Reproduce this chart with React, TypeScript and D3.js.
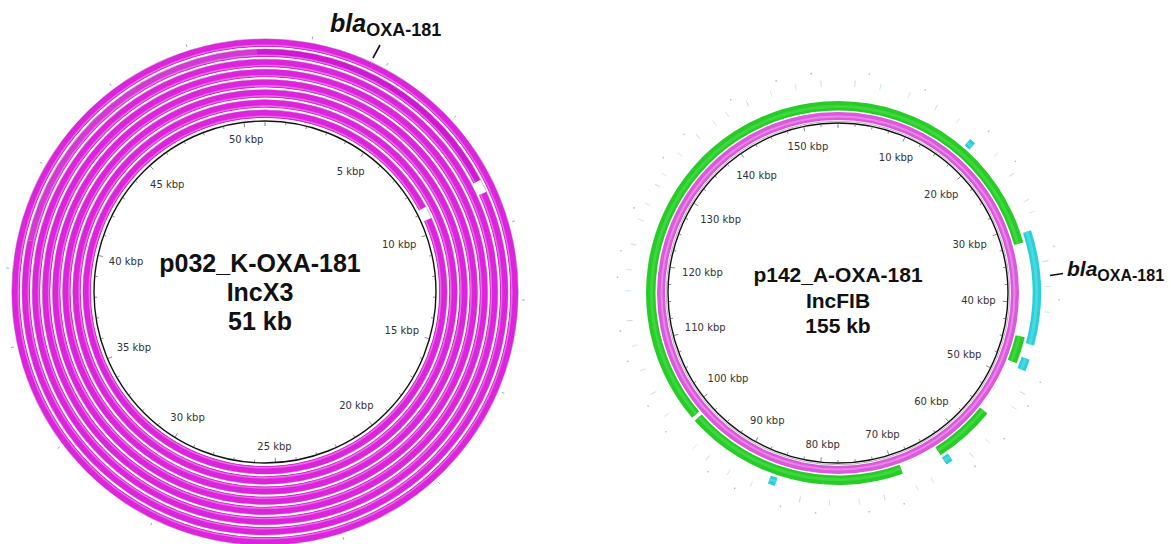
import React from "react";
import * as d3 from "d3";

const W = 1170;
const H = 544;

// ---------- Left plasmid: p032_K-OXA-181 ----------
const leftTitle = ["p032_K-OXA-181", "IncX3", "51 kb"];
const leftLength = 51;
const leftTickLabels = [5, 10, 15, 20, 25, 30, 35, 40, 45, 50];
const leftRingIds = [0, 1, 2, 3, 4, 5, 6, 7];
// BLAST hit segments per ring (kbp)
const leftSegRing = [0, 0, 1, 2, 3, 4, 5, 6, 6, 6, 6, 7];
const leftSegStart = [0, 9.35, 0, 0, 0, 0, 0, 0, 9.3, 40, 50.7, 0];
const leftSegEnd = [8.8, 51, 51, 51, 51, 51, 51, 8.85, 40, 50.7, 51, 51];
const leftSegTone = ["base", "base", "base", "base", "base", "base", "base", "dark", "base", "pale", "dark", "base"];
const leftOuterSpecks = [1.5, 4, 6.7, 10.5, 13, 16, 19.5, 23, 26, 29.2, 33, 36.5, 39, 42.5, 45.8, 48.5];

// ---------- Right plasmid: p142_A-OXA-181 ----------
const rightTitle = ["p142_A-OXA-181", "IncFIB", "155 kb"];
const rightLength = 155;
const rightTickLabels = [10, 20, 30, 40, 50, 60, 70, 80, 90, 100, 110, 120, 130, 140, 150];
const rightMagentaStart = [0];
const rightMagentaEnd = [155];
const rightGreenStart = [0, 44.5, 55.5, 69, 98.8];
const rightGreenEnd = [32.2, 48, 63.6, 98.3, 155];
const rightCyanStart = [17.5, 31, 47, 62.7, 85.3];
const rightCyanEnd = [18.3, 45.2, 48.5, 63.6, 86.2];
const rightFaintLines = [2, 5, 8.5, 12, 15, 21, 24, 27.5, 29, 35, 38, 41, 51, 53, 58, 60.5, 66, 68, 72, 75, 78.5, 82, 88, 91, 94, 96, 101, 104, 107, 110, 113, 116.5, 119, 122, 125, 127, 129.5, 131, 134, 137, 139.5, 141.3, 144, 147, 150, 153];
const rightFaintDots = [3.5, 10, 18.5, 23, 33.5, 39.5, 49, 52, 56.5, 61, 70, 74, 80, 84, 89.5, 93, 99.5, 103, 108.5, 112, 118, 121, 126, 132.5, 136, 142.5, 148, 152];

const arc = d3.arc<any>();

function kbpWidth(label: string) {
  let w = 0;
  for (const ch of label) {
    if (/[0-9]/.test(ch)) w += 6.36;
    else if (ch === " ") w += 3.18;
    else if (ch === "k") w += 5.79;
    else w += 6.35;
  }
  return w;
}

function labelXY(angle: number, r0: number, w: number, h: number) {
  const s = Math.sin(angle);
  const c = Math.cos(angle);
  const d = r0 - (Math.abs(s) * w) / 2 - (Math.abs(c) * h) / 2;
  return [d * s, -d * c];
}

function LeftPlasmid() {
  const cx = 265;
  const cy = 292;
  const rInner = 171;
  const r0 = 172.5;
  const ringW = 10.15;
  const ang = d3.scaleLinear().domain([0, leftLength]).range([0, 2 * Math.PI]);
  const toneColor: Record<string, string> = { base: "#dc24dc", dark: "#cf18d2", pale: "#d33ad3" };
  const ticks = d3.range(0, leftLength, 1);
  return (
    <g transform={`translate(${cx},${cy})`}>
      {leftRingIds.map((ri) => {
        const a = r0 + ri * ringW;
        return <circle key={"bg" + ri} r={a + ringW - 0.4} fill="none" stroke="#6a3a6a" strokeWidth={0.7} opacity={0.5} />;
      })}
      {leftSegRing.map((ri, i) => {
        const a = r0 + ri * ringW;
        const s = ang(leftSegStart[i]);
        const e = ang(leftSegEnd[i]);
        const col = toneColor[leftSegTone[i]];
        return (
          <g key={"seg" + i}>
            <path d={arc({ innerRadius: a + 1.6, outerRadius: a + ringW - 0.6, startAngle: s, endAngle: e })!} fill={col} />
            <path d={arc({ innerRadius: a + 2.4, outerRadius: a + 4.0, startAngle: s, endAngle: e })!} fill="#ee88ee" opacity={0.7} />
            <path d={arc({ innerRadius: a + 1.6, outerRadius: a + 2.4, startAngle: s, endAngle: e })!} fill="#d02cd0" />
          </g>
        );
      })}
      {leftRingIds.map((ri) => {
        const a = r0 + ri * ringW;
        return <circle key={"wg" + ri} r={a + 0.9} fill="none" stroke="#ffffff" strokeWidth={1.3} opacity={0.9} />;
      })}
      <circle r={rInner} fill="none" stroke="#111" strokeWidth={1.4} />
      {ticks.map((t) => {
        const a = ang(t);
        const len = t % 5 === 0 ? 5 : 3;
        return (
          <line
            key={"tk" + t}
            x1={(rInner - 0.5) * Math.sin(a)}
            y1={-(rInner - 0.5) * Math.cos(a)}
            x2={(rInner - len) * Math.sin(a)}
            y2={-(rInner - len) * Math.cos(a)}
            stroke="#555"
            strokeWidth={0.7}
          />
        );
      })}
      {leftOuterSpecks.map((t, i) => {
        const a = ang(t);
        return (
          <line
            key={"sp" + i}
            x1={257 * Math.sin(a)}
            y1={-257 * Math.cos(a)}
            x2={260 * Math.sin(a)}
            y2={-260 * Math.cos(a)}
            stroke="#aaa"
            strokeWidth={1}
          />
        );
      })}
      {leftTickLabels.map((t) => {
        const label = `${t} kbp`;
        const [x, y] = labelXY(ang(t), 160, kbpWidth(label), 9);
        return (
          <text key={"lb" + t} x={x} y={y} textAnchor="middle" dominantBaseline="central" fontFamily="DejaVu Sans" fontSize={10} fill="#333">
            {label}
          </text>
        );
      })}
      {leftTitle.map((s, i) => (
        <text key={"tt" + i} x={-5} y={-20 + i * 29} textAnchor="middle" fontFamily="Liberation Sans" fontWeight="bold" fontSize={25} fill="#111">
          {s}
        </text>
      ))}
    </g>
  );
}

function RightPlasmid() {
  const cx = 838;
  const cy = 293;
  const rInner = 170;
  const ang = d3.scaleLinear().domain([0, rightLength]).range([0, 2 * Math.PI]);
  const ticks = d3.range(0, rightLength, 2.5);
  const mag = { i: 173, o: 181 };
  const grn = { i: 182.5, o: 192 };
  const cyn = { i: 194.5, o: 203 };
  return (
    <g transform={`translate(${cx},${cy})`}>
      {rightFaintLines.map((t, i) => {
        const a = ang(t);
        return (
          <line
            key={"fl" + i}
            x1={207 * Math.sin(a)}
            y1={-207 * Math.cos(a)}
            x2={213 * Math.sin(a)}
            y2={-213 * Math.cos(a)}
            stroke={i % 3 === 0 ? "#c4c4c4" : "#b4e2e8"}
            strokeWidth={0.9}
            opacity={0.8}
          />
        );
      })}
      {rightFaintDots.map((t, i) => {
        const a = ang(t);
        return <circle key={"fd" + i} cx={221 * Math.sin(a)} cy={-221 * Math.cos(a)} r={0.8} fill={i % 4 === 0 ? "#d0a8b0" : "#b0b0b0"} />;
      })}
      {rightMagentaStart.map((s, i) => (
        <g key={"m" + i}>
          <path d={arc({ innerRadius: mag.i, outerRadius: mag.o, startAngle: ang(s), endAngle: ang(rightMagentaEnd[i]) })!} fill="#dc58dc" />
          <path d={arc({ innerRadius: mag.i + 2.5, outerRadius: mag.i + 4.5, startAngle: ang(s), endAngle: ang(rightMagentaEnd[i]) })!} fill="#e886e8" />
        </g>
      ))}
      {rightGreenStart.map((s, i) => (
        <g key={"g" + i}>
          <path d={arc({ innerRadius: grn.i, outerRadius: grn.o, startAngle: ang(s), endAngle: ang(rightGreenEnd[i]) })!} fill="#28cc28" />
          <path d={arc({ innerRadius: grn.i + 2.5, outerRadius: grn.i + 5.5, startAngle: ang(s), endAngle: ang(rightGreenEnd[i]) })!} fill="#3ed83e" />
        </g>
      ))}
      {rightCyanStart.map((s, i) => (
        <g key={"c" + i}>
          <path d={arc({ innerRadius: cyn.i, outerRadius: cyn.o, startAngle: ang(s), endAngle: ang(rightCyanEnd[i]) })!} fill="#2ccfd8" />
          <path d={arc({ innerRadius: cyn.i + 2.5, outerRadius: cyn.i + 5.5, startAngle: ang(s), endAngle: ang(rightCyanEnd[i]) })!} fill="#48d9e2" />
        </g>
      ))}
      <circle r={rInner + 1.8} fill="none" stroke="#888" strokeWidth={0.6} />
      <circle r={rInner} fill="none" stroke="#111" strokeWidth={1.4} />
      {ticks.map((t) => {
        const a = ang(t);
        const len = t % 10 === 0 ? 5 : 3;
        return (
          <line
            key={"tk" + t}
            x1={(rInner - 0.5) * Math.sin(a)}
            y1={-(rInner - 0.5) * Math.cos(a)}
            x2={(rInner - len) * Math.sin(a)}
            y2={-(rInner - len) * Math.cos(a)}
            stroke="#555"
            strokeWidth={0.7}
          />
        );
      })}
      {rightTickLabels.map((t) => {
        const label = `${t} kbp`;
        const [x, y] = labelXY(ang(t), 158, kbpWidth(label), 9);
        return (
          <text key={"lb" + t} x={x} y={y} textAnchor="middle" dominantBaseline="central" fontFamily="DejaVu Sans" fontSize={10} fill="#333">
            {label}
          </text>
        );
      })}
      {rightTitle.map((s, i) => (
        <text key={"tt" + i} x={0} y={-11 + i * 25.5} textAnchor="middle" fontFamily="Liberation Sans" fontWeight="bold" fontSize={21} fill="#111">
          {s}
        </text>
      ))}
    </g>
  );
}

export default function App() {
  return (
    <svg width={W} height={H} style={{ position: "fixed", left: 0, top: 0, background: "#fff" }}>
      <rect width={W} height={H} fill="#fff" />
      <LeftPlasmid />
      <RightPlasmid />
      <line x1={380} y1={45} x2={373} y2={58} stroke="#111" strokeWidth={1.6} />
      <text x={330} y={32} fontFamily="Liberation Sans" fontWeight="bold" fill="#111">
        <tspan fontStyle="italic" fontSize={25}>bla</tspan>
        <tspan fontSize={18} dy={4}>OXA-181</tspan>
      </text>
      <line x1={1050} y1={275.5} x2={1063} y2={273.5} stroke="#111" strokeWidth={1.6} />
      <text x={1067} y={276} fontFamily="Liberation Sans" fontWeight="bold" fill="#111">
        <tspan fontStyle="italic" fontSize={21}>bla</tspan>
        <tspan fontSize={16} dy={5}>OXA-181</tspan>
      </text>
    </svg>
  );
}
